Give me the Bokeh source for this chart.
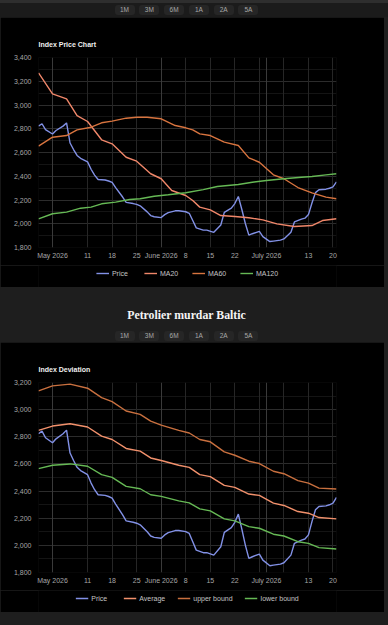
import pandas as pd
from bokeh.plotting import figure
from bokeh.models import (Range1d, FixedTicker, SingleIntervalTicker, NumeralTickFormatter,
                          Grid, Legend, LegendItem, Div)
from bokeh.layouts import column
from bokeh.embed import file_html
from bokeh.resources import INLINE

FONT = "Liberation Sans"
FS = "7px"

# ---------------- data ----------------
price_dates = ["2026-04-27", "2026-04-28", "2026-04-29", "2026-05-01", "2026-05-02", "2026-05-04",
               "2026-05-05", "2026-05-06", "2026-05-07", "2026-05-08", "2026-05-09", "2026-05-11",
               "2026-05-12", "2026-05-13", "2026-05-14", "2026-05-16", "2026-05-17", "2026-05-18",
               "2026-05-19", "2026-05-21", "2026-05-22", "2026-05-24", "2026-05-25", "2026-05-26",
               "2026-05-28", "2026-05-29", "2026-05-30", "2026-06-01", "2026-06-02", "2026-06-03",
               "2026-06-05", "2026-06-06", "2026-06-08", "2026-06-09", "2026-06-10", "2026-06-11",
               "2026-06-13", "2026-06-14", "2026-06-16", "2026-06-18", "2026-06-19", "2026-06-21",
               "2026-06-22", "2026-06-23", "2026-06-24", "2026-06-25", "2026-06-26", "2026-06-27",
               "2026-06-29", "2026-06-30", "2026-07-02", "2026-07-03", "2026-07-05", "2026-07-06",
               "2026-07-08", "2026-07-09", "2026-07-11", "2026-07-12", "2026-07-13", "2026-07-14",
               "2026-07-15", "2026-07-16", "2026-07-18", "2026-07-19", "2026-07-20", "2026-07-21"]
price_values = [2822, 2842, 2793, 2756, 2785, 2822,
                2849, 2680, 2625, 2575, 2551, 2521,
                2459, 2410, 2373, 2368, 2360, 2348,
                2304, 2225, 2180, 2170, 2163, 2151,
                2100, 2069, 2059, 2052, 2077, 2094,
                2109, 2109, 2101, 2088, 2027, 1965,
                1946, 1946, 1928, 1990, 2096, 2131,
                2170, 2230, 2120, 2002, 1904, 1916,
                1936, 1891, 1850, 1854, 1862, 1872,
                1928, 2015, 2039, 2047, 2077, 2175,
                2262, 2286, 2291, 2299, 2311, 2353]

ma20_dates = ["2026-04-27", "2026-05-01", "2026-05-05", "2026-05-08", "2026-05-11", "2026-05-15",
              "2026-05-18", "2026-05-22", "2026-05-25", "2026-05-29", "2026-06-01", "2026-06-04",
              "2026-06-08", "2026-06-10", "2026-06-12", "2026-06-15", "2026-06-18", "2026-06-22",
              "2026-06-26", "2026-06-30", "2026-07-04", "2026-07-09", "2026-07-14", "2026-07-17",
              "2026-07-21"]
ma20_values = [3271, 3094, 3052, 2911, 2861, 2707,
               2673, 2560, 2527, 2421, 2379, 2280,
               2238, 2196, 2140, 2117, 2069, 2061,
               2050, 2033, 1999, 1977, 1985, 2027,
               2042]

ma60_dates = ["2026-04-27", "2026-05-01", "2026-05-05", "2026-05-08", "2026-05-12", "2026-05-15",
              "2026-05-18", "2026-05-22", "2026-05-25", "2026-05-28", "2026-06-01", "2026-06-05",
              "2026-06-08", "2026-06-10", "2026-06-12", "2026-06-15", "2026-06-19", "2026-06-23",
              "2026-06-26", "2026-06-29", "2026-07-03", "2026-07-06", "2026-07-10", "2026-07-14",
              "2026-07-18", "2026-07-21"]
ma60_values = [2653, 2729, 2743, 2791, 2813, 2850,
               2864, 2889, 2897, 2897, 2884, 2827,
               2808, 2791, 2757, 2743, 2687, 2659,
               2555, 2518, 2412, 2379, 2305, 2260,
               2224, 2210]

ma120_dates = ["2026-04-27", "2026-05-01", "2026-05-05", "2026-05-09", "2026-05-12", "2026-05-15",
               "2026-05-19", "2026-05-23", "2026-05-26", "2026-05-30", "2026-06-03", "2026-06-08",
               "2026-06-13", "2026-06-17", "2026-06-23", "2026-06-27", "2026-07-01", "2026-07-06",
               "2026-07-11", "2026-07-14", "2026-07-18", "2026-07-21"]
ma120_values = [2041, 2084, 2098, 2131, 2140, 2168,
                2182, 2204, 2210, 2232, 2244, 2261,
                2287, 2314, 2331, 2350, 2364, 2379,
                2392, 2398, 2412, 2421]

band_dates = ["2026-04-27", "2026-05-01", "2026-05-06", "2026-05-11", "2026-05-15", "2026-05-18",
              "2026-05-22", "2026-05-26", "2026-05-29", "2026-06-01", "2026-06-06", "2026-06-09",
              "2026-06-12", "2026-06-15", "2026-06-19", "2026-06-22", "2026-06-26", "2026-06-29",
              "2026-07-03", "2026-07-06", "2026-07-10", "2026-07-13", "2026-07-16", "2026-07-21"]
upper_values = [3138, 3175, 3188, 3158, 3089, 3059, 2990, 2965, 2916, 2886, 2847, 2828,
                2780, 2763, 2689, 2664, 2620, 2603, 2546, 2528, 2477, 2459, 2422, 2415]
average_values = [2847, 2879, 2896, 2872, 2805, 2780, 2714, 2694, 2644, 2625, 2590, 2575,
                  2521, 2506, 2442, 2427, 2378, 2368, 2311, 2294, 2249, 2237, 2205, 2195]
lower_values = [2565, 2590, 2600, 2583, 2521, 2501, 2435, 2417, 2373, 2361, 2328, 2313,
                2269, 2254, 2195, 2180, 2138, 2126, 2082, 2069, 2027, 2015, 1983, 1973]

x_start, x_end = "2026-04-27", "2026-07-21"
tick_dates = ["2026-05-01", "2026-05-11", "2026-05-18", "2026-05-25", "2026-06-01", "2026-06-08",
              "2026-06-15", "2026-06-22", "2026-06-29", "2026-07-01", "2026-07-06", "2026-07-13",
              "2026-07-20"]
tick_labels = ["May 2026", "11", "18", "25", "June 2026", "8",
               "15", "22", "", "July 2026", "", "13", "20"]
month_dates = ["2026-05-01", "2026-06-01", "2026-07-01"]
range_buttons = ["1M", "3M", "6M", "1A", "2A", "5A"]

C_PRICE = "#8291e6"
C_MA20 = "#f0876a"
C_MA60 = "#d8743f"
C_GREEN = "#66b955"
C_AVG = "#f2916c"
C_UP = "#c9703f"


def ms(d):
    return pd.Timestamp(d).value / 1e6


def make_fig(title, y0, y1, series):
    p = figure(frame_width=298, frame_height=190, x_axis_type="datetime",
               x_range=Range1d(ms(x_start), ms(x_end)), y_range=Range1d(y0, y1),
               output_backend="svg", toolbar_location=None, title=title,
               background_fill_color="#000000", border_fill_color="#000000",
               min_border_left=38, min_border_right=48, min_border_top=40, min_border_bottom=18)
    p.outline_line_color = None
    p.title.text_color = "#f0f0f0"
    p.title.text_font = FONT
    p.title.text_font_size = FS
    p.title.text_font_style = "bold"
    p.title.align = "left"
    p.title.standoff = 20

    tick_ms = [ms(d) for d in tick_dates]
    p.xaxis.ticker = FixedTicker(ticks=tick_ms, minor_ticks=[])
    p.xaxis.major_label_overrides = dict(zip(tick_ms, tick_labels))
    p.yaxis.ticker = SingleIntervalTicker(interval=200, num_minor_ticks=2)
    p.yaxis.formatter = NumeralTickFormatter(format="0,0")
    for ax in (p.xaxis[0], p.yaxis[0]):
        ax.axis_line_color = None
        ax.major_tick_line_color = None
        ax.minor_tick_line_color = None
        ax.major_tick_out = 0
        ax.major_tick_in = 0
        ax.minor_tick_out = 0
        ax.major_label_text_color = "#a6a6a6"
        ax.major_label_text_font = FONT
        ax.major_label_text_font_size = FS
    p.xaxis.major_label_standoff = 4
    p.yaxis.major_label_standoff = 7

    p.xgrid.grid_line_color = None
    p.ygrid.grid_line_color = "#2c2c2c"
    p.ygrid.minor_grid_line_color = "#141414"
    week_ms = [t for t, d in zip(tick_ms, tick_dates) if d not in month_dates]
    p.add_layout(Grid(dimension=0, ticker=FixedTicker(ticks=week_ms), grid_line_color="#262626"))
    p.add_layout(Grid(dimension=0, ticker=FixedTicker(ticks=[ms(d) for d in month_dates]),
                      grid_line_color="#3a3a3a"))

    for label, dates, vals, color in series:
        p.line(pd.to_datetime(dates), vals, line_color=color, line_width=1.4)

    # legend strip beneath the chart (same series, plotted out of its view)
    lg = figure(frame_width=298, frame_height=22, x_axis_type="datetime",
                x_range=Range1d(ms(x_start), ms(x_end)), y_range=Range1d(0, 1),
                x_axis_location=None, y_axis_location=None,
                output_backend="svg", toolbar_location=None,
                background_fill_color="#000000", border_fill_color="#000000",
                min_border_left=38, min_border_right=48, min_border_top=0, min_border_bottom=0)
    lg.outline_line_color = None
    lg.grid.visible = False
    items = []
    for label, dates, vals, color in series:
        r = lg.line(pd.to_datetime(dates), vals, line_color=color, line_width=1.4)
        items.append(LegendItem(label=label, renderers=[r]))
    leg = Legend(items=items, orientation="horizontal", location="top_center",
                 background_fill_alpha=0, border_line_alpha=0,
                 label_text_color="#c4c4c4", label_text_font=FONT, label_text_font_size=FS,
                 glyph_width=13, glyph_height=10, label_standoff=3, spacing=12,
                 padding=0, margin=3)
    lg.add_layout(leg)
    return p, lg


def buttons_html(top):
    chips = "".join(
        '<span style="display:block;width:20px;height:10px;line-height:10px;'
        'background:#262626;border-radius:3px;color:#a8a8a8;font-family:\'Liberation Sans\',sans-serif;'
        f'font-size:6.5px;text-align:center;">{b}</span>' for b in range_buttons)
    return (f'<div style="position:absolute;left:0;top:{top}px;width:373px;display:flex;'
            f'justify-content:center;gap:4.8px;">{chips}</div>')


top_div = Div(width=388, height=17, margin=0,
              text='<div style="position:relative;width:388px;height:17px;background:#1b1b1b;'
                   'border-top:3px solid #2e2e2e;box-sizing:border-box;">'
                   + buttons_html(2) + '</div>')

mid_div = Div(width=388, height=55, margin=0,
              text='<div style="position:relative;width:388px;height:55px;background:#1e1e1e;">'
                   '<div style="position:absolute;left:0;top:20px;width:373px;text-align:center;'
                   'color:#f4f4f4;font-family:\'Liberation Serif\',serif;font-weight:bold;'
                   'font-size:11.8px;line-height:16px;">Petrolier murdar Baltic</div>'
                   + buttons_html(44) + '</div>')

bottom_div = Div(width=388, height=13, margin=0,
                 text='<div style="width:388px;height:13px;background:#1e1e1e;"></div>')

p1, l1 = make_fig("Index Price Chart", 1800, 3400, [
    ("Price", price_dates, price_values, C_PRICE),
    ("MA20", ma20_dates, ma20_values, C_MA20),
    ("MA60", ma60_dates, ma60_values, C_MA60),
    ("MA120", ma120_dates, ma120_values, C_GREEN),
])

p2, l2 = make_fig("Index Deviation", 1800, 3200, [
    ("Price", price_dates, price_values, C_PRICE),
    ("Average", band_dates, average_values, C_AVG),
    ("upper bound", band_dates, upper_values, C_UP),
    ("lower bound", band_dates, lower_values, C_GREEN),
])

layout = column(top_div, p1, l1, mid_div, p2, l2, bottom_div, spacing=0,
                styles={"background-color": "#1e1e1e", "width": "388px"})

open("out.html", "w").write(file_html(layout, INLINE))
